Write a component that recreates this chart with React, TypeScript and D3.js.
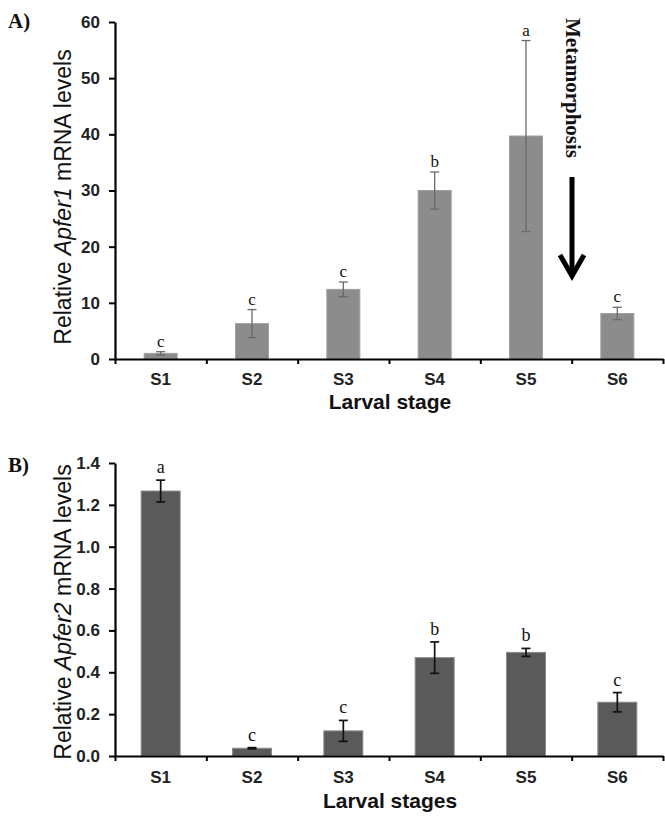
import React, { useRef, useEffect } from 'react';
import * as d3 from 'd3';

const stages = ['S1', 'S2', 'S3', 'S4', 'S5', 'S6'];

const apfer1Mean = [1.0, 6.3, 12.4, 30.0, 39.7, 8.1];
const apfer1Err = [0.3, 2.5, 1.3, 3.3, 17.0, 1.1];
const apfer1Letters = ['c', 'c', 'c', 'b', 'a', 'c'];
const apfer1Ticks = [0, 10, 20, 30, 40, 50, 60];

const apfer2Mean = [1.266, 0.037, 0.12, 0.47, 0.495, 0.257];
const apfer2Err = [0.052, 0.003, 0.05, 0.075, 0.019, 0.046];
const apfer2Letters = ['a', 'c', 'c', 'b', 'b', 'c'];
const apfer2Ticks = [0, 0.2, 0.4, 0.6, 0.8, 1.0, 1.2, 1.4];

const SANS = '"Liberation Sans", Arial, sans-serif';
const SERIF = '"Liberation Serif", "Times New Roman", serif';

const App = () => {
    const svgRef = useRef(null);

    useEffect(() => {
        const svg = d3.select(svgRef.current);
        svg.selectAll('*').remove();

        const drawPanel = (cfg) => {
            const x = d3.scaleBand()
                .domain(stages)
                .range([cfg.left, cfg.right]);
            const xEdge = d3.scaleLinear()
                .domain([0, stages.length])
                .range([cfg.left, cfg.right]);
            const y = d3.scaleLinear()
                .domain([0, cfg.yMax])
                .range([cfg.bottom, cfg.top]);

            const g = svg.append('g');

            // bars
            g.selectAll('.bar')
                .data(cfg.mean)
                .enter()
                .append('rect')
                .attr('x', (d, i) => x(stages[i]) + x.bandwidth() / 2 - cfg.barWidth / 2)
                .attr('y', (d) => y(d))
                .attr('width', cfg.barWidth)
                .attr('height', (d) => cfg.bottom - y(d))
                .attr('fill', cfg.fill)
                .attr('stroke', cfg.edge)
                .attr('stroke-width', 1);

            // error bars + letters
            cfg.mean.forEach((m, i) => {
                const cx = x(stages[i]) + x.bandwidth() / 2;
                const hi = y(m + cfg.err[i]);
                const lo = y(m - cfg.err[i]);
                const eg = g.append('g')
                    .attr('stroke', cfg.errColor)
                    .attr('stroke-width', cfg.errWidth);
                eg.append('line').attr('x1', cx).attr('x2', cx).attr('y1', hi).attr('y2', lo);
                eg.append('line').attr('x1', cx - cfg.cap).attr('x2', cx + cfg.cap).attr('y1', hi).attr('y2', hi);
                eg.append('line').attr('x1', cx - cfg.cap).attr('x2', cx + cfg.cap).attr('y1', lo).attr('y2', lo);

                g.append('text')
                    .attr('x', cx)
                    .attr('y', hi - cfg.letterGap)
                    .attr('text-anchor', 'middle')
                    .attr('font-family', SERIF)
                    .attr('font-size', cfg.letterSize)
                    .attr('fill', '#111')
                    .text(cfg.letters[i]);
            });

            // y axis
            const yAxis = g.append('g')
                .attr('transform', `translate(${cfg.left},0)`)
                .call(d3.axisLeft(y).tickValues(cfg.ticks).tickFormat(cfg.format).tickSize(6).tickSizeOuter(0));
            yAxis.select('.domain').attr('stroke', '#000').attr('stroke-width', 2.2);
            yAxis.selectAll('.tick line').attr('stroke', '#000').attr('stroke-width', 2);
            yAxis.selectAll('.tick text')
                .attr('x', -15)
                .attr('font-family', SANS)
                .attr('font-weight', 'bold')
                .attr('font-size', 17)
                .attr('fill', '#222');

            // x axis with ticks between stages
            const xAxis = g.append('g')
                .attr('transform', `translate(0,${cfg.bottom})`)
                .call(d3.axisBottom(xEdge).tickValues(d3.range(stages.length + 1)).tickFormat(() => '').tickSize(5).tickSizeOuter(0));
            xAxis.select('.domain').attr('stroke', '#000').attr('stroke-width', 2.2);
            xAxis.selectAll('.tick line').attr('stroke', '#000').attr('stroke-width', 2);

            g.selectAll('.xlab')
                .data(stages)
                .enter()
                .append('text')
                .attr('x', (d) => x(d) + x.bandwidth() / 2)
                .attr('y', cfg.bottom + cfg.xLabOffset)
                .attr('text-anchor', 'middle')
                .attr('font-family', SANS)
                .attr('font-weight', 'bold')
                .attr('font-size', 17)
                .attr('fill', '#222')
                .text((d) => d);

            g.append('text')
                .attr('x', 390)
                .attr('y', cfg.bottom + cfg.xTitleOffset)
                .attr('text-anchor', 'middle')
                .attr('font-family', SANS)
                .attr('font-weight', 'bold')
                .attr('font-size', 21)
                .attr('fill', '#111')
                .text(cfg.xTitle);

            // y title
            const yt = g.append('text')
                .attr('transform', `translate(71,${cfg.titleY}) rotate(-90)`)
                .attr('text-anchor', 'middle')
                .attr('font-family', SANS)
                .attr('font-size', 23)
                .attr('fill', '#111');
            yt.append('tspan').text('Relative ');
            yt.append('tspan').attr('font-style', 'italic').text(cfg.gene);
            yt.append('tspan').text(' mRNA levels');

            // panel letter
            g.append('text')
                .attr('x', 8)
                .attr('y', cfg.panelY)
                .attr('font-family', SERIF)
                .attr('font-weight', 'bold')
                .attr('font-size', 21)
                .attr('fill', '#111')
                .text(cfg.panel);
        };

        drawPanel({
            left: 115, right: 663, top: 22, bottom: 359,
            yMax: 60, ticks: apfer1Ticks, format: d3.format('d'),
            mean: apfer1Mean, err: apfer1Err, letters: apfer1Letters,
            barWidth: 33, fill: '#8c8c8c', edge: '#a0a0a0',
            errColor: '#6a6a6a', errWidth: 1.3, cap: 4.5,
            letterGap: 5, letterSize: 17,
            xLabOffset: 26, xTitleOffset: 50, xTitle: 'Larval stage',
            titleY: 197, gene: 'Apfer1', panel: 'A)', panelY: 28,
        });

        drawPanel({
            left: 115, right: 663, top: 463, bottom: 756,
            yMax: 1.4, ticks: apfer2Ticks, format: d3.format('.1f'),
            mean: apfer2Mean, err: apfer2Err, letters: apfer2Letters,
            barWidth: 39, fill: '#5a5a5a', edge: '#8a8a8a',
            errColor: '#111', errWidth: 1.7, cap: 4.5,
            letterGap: 7, letterSize: 18,
            xLabOffset: 27, xTitleOffset: 52, xTitle: 'Larval stages',
            titleY: 612, gene: 'Apfer2', panel: 'B)', panelY: 472,
        });

        // metamorphosis annotation
        svg.append('text')
            .attr('transform', 'translate(566,88) rotate(90)')
            .attr('text-anchor', 'middle')
            .attr('font-family', SERIF)
            .attr('font-weight', 'bold')
            .attr('font-size', 21)
            .attr('fill', '#111')
            .text('Metamorphosis');

        svg.append('line')
            .attr('x1', 572).attr('x2', 572)
            .attr('y1', 177).attr('y2', 274)
            .attr('stroke', '#000')
            .attr('stroke-width', 5);
        svg.append('path')
            .attr('d', 'M560,255 L572,276 L584,255')
            .attr('fill', 'none')
            .attr('stroke', '#000')
            .attr('stroke-width', 5)
            .attr('stroke-linejoin', 'miter');
    }, []);

    return (
        <svg
            ref={svgRef}
            width={665}
            height={820}
            style={{ position: 'absolute', left: 0, top: 0, background: '#fff' }}
        ></svg>
    );
};

export default App;
